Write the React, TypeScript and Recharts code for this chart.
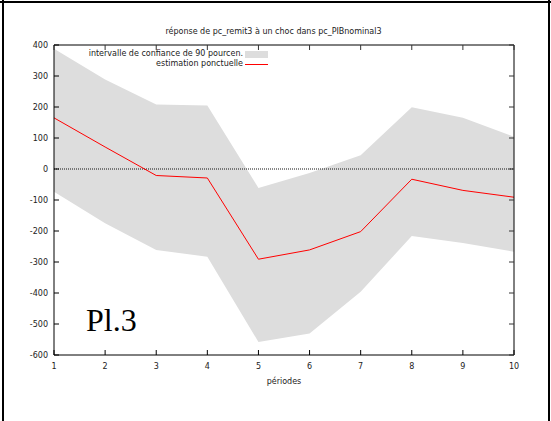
import React from 'react';
import { ComposedChart, Area, Line, XAxis, YAxis, ReferenceLine, Legend } from 'recharts';

const periods = [1, 2, 3, 4, 5, 6, 7, 8, 9, 10];
const estimate = [165, 71, -21, -29, -291, -261, -202, -33, -69, -91];
const upper = [388, 289, 208, 205, -61, -13, 44, 199, 165, 104];
const lower = [-73, -175, -261, -283, -558, -531, -396, -216, -239, -267];
const yTicks = [-600, -500, -400, -300, -200, -100, 0, 100, 200, 300, 400];
const xTicks = [1, 2, 3, 4, 5, 6, 7, 8, 9, 10];

const titleText = 'réponse de pc_remit3 à un choc dans pc_PIBnominal3';
const xLabel = 'périodes';
const bandName = 'intervalle de confiance de 90 pourcen.';
const lineName = 'estimation ponctuelle';
const panelLabel = 'Pl.3';

const data = periods.map((p, i) => ({ x: p, est: estimate[i], band: [lower[i], upper[i]] }));

const FONT = '"DejaVu Sans", Verdana, sans-serif';
const TICK_LEN = 5;
const Y_MARGIN = 6;
const X_MARGIN = 8;

const LeftTick = (props: any) => {
  const { x, y, payload } = props;
  const ax = x + Y_MARGIN;
  return (
    <g>
      <line x1={ax} y1={y} x2={ax + TICK_LEN} y2={y} stroke="#000" strokeWidth={1} />
      <text x={x} y={y} dy="0.35em" textAnchor="end" fontSize={8} fontFamily={FONT} fill="#222">
        {payload.value}
      </text>
    </g>
  );
};

const BottomTick = (props: any) => {
  const { x, y, payload } = props;
  const ay = y - X_MARGIN;
  return (
    <g>
      <line x1={x} y1={ay} x2={x} y2={ay - TICK_LEN} stroke="#000" strokeWidth={1} />
      <text x={x} y={y} dy="0.71em" textAnchor="middle" fontSize={8} fontFamily={FONT} fill="#222">
        {payload.value}
      </text>
    </g>
  );
};

const RightTick = (props: any) => {
  const { x, y } = props;
  return <line x1={x} y1={y} x2={x - TICK_LEN} y2={y} stroke="#333" strokeWidth={1} />;
};

const TopTick = (props: any) => {
  const { x, y } = props;
  return <line x1={x} y1={y} x2={x} y2={y + TICK_LEN} stroke="#333" strokeWidth={1} />;
};

const renderLegend = (props: any) => {
  const payload = [...(props.payload || [])].sort((a: any, b: any) =>
    (a.dataKey === 'band' ? 0 : 1) - (b.dataKey === 'band' ? 0 : 1)
  );
  return (
    <div style={{ position: 'relative', width: 551, height: 30, fontFamily: FONT, fontSize: 8, color: '#222' }}>
      {payload.map((entry: any, i: number) => {
        const isBand = entry.dataKey === 'band';
        return (
          <div key={i} style={{ position: 'absolute', top: i * 10.5, left: 0, width: 551, height: 10.5 }}>
            <span
              style={{
                position: 'absolute',
                right: 551 - 243,
                top: 0,
                lineHeight: '10.5px',
                whiteSpace: 'nowrap',
              }}
            >
              {entry.value}
            </span>
            {isBand ? (
              <span style={{ position: 'absolute', left: 245, top: 2, width: 23, height: 7, background: '#dddddd' }} />
            ) : (
              <span style={{ position: 'absolute', left: 245, top: 5, width: 23, height: 1, background: '#ff0000' }} />
            )}
          </div>
        );
      })}
    </div>
  );
};

export default function App() {
  return (
    <div style={{ position: 'absolute', left: 0, top: 0, width: 551, height: 421, background: '#fff', overflow: 'hidden' }}>
      <div style={{ position: 'absolute', left: 0, top: 1, width: 551, height: 2, background: '#000' }} />
      <div style={{ position: 'absolute', left: 2, top: 0, width: 2, height: 421, background: '#000' }} />
      <div style={{ position: 'absolute', left: 548, top: 0, width: 2, height: 421, background: '#000' }} />
      <div
        style={{
          position: 'absolute',
          left: 0,
          top: 27,
          width: 551,
          textAlign: 'center',
          fontFamily: FONT,
          fontSize: 8,
          color: '#222',
        }}
      >
        <span style={{ position: 'relative', left: -2 }}>{titleText}</span>
      </div>
      <div style={{ position: 'absolute', left: 0, top: 0 }}>
        <ComposedChart width={551} height={421} data={data} margin={{ top: 44, right: 36, bottom: 36, left: 4 }}>
          <XAxis
            xAxisId={0}
            dataKey="x"
            type="number"
            domain={[1, 10]}
            ticks={xTicks}
            allowDataOverflow
            height={30}
            tickSize={0}
            tickMargin={X_MARGIN}
            tickLine={false}
            tick={<BottomTick />}
            axisLine={{ stroke: '#000', strokeWidth: 1 }}
            interval={0}
            label={{ value: xLabel, position: 'bottom', offset: -7, fontSize: 8, fontFamily: FONT, fill: '#222' }}
          />
          <XAxis
            xAxisId="t"
            orientation="top"
            dataKey="x"
            type="number"
            domain={[1, 10]}
            ticks={xTicks}
            allowDataOverflow
            height={1}
            tickSize={0}
            tickMargin={0}
            tickLine={false}
            tick={<TopTick />}
            axisLine={{ stroke: '#000', strokeWidth: 1 }}
            interval={0}
          />
          <YAxis
            yAxisId={0}
            type="number"
            domain={[-600, 400]}
            ticks={yTicks}
            allowDataOverflow
            width={50}
            tickSize={0}
            tickMargin={Y_MARGIN}
            tickLine={false}
            tick={<LeftTick />}
            axisLine={{ stroke: '#000', strokeWidth: 1 }}
            interval={0}
          />
          <YAxis
            yAxisId="r"
            orientation="right"
            type="number"
            domain={[-600, 400]}
            ticks={yTicks}
            allowDataOverflow
            width={1}
            tickSize={0}
            tickMargin={0}
            tickLine={false}
            tick={<RightTick />}
            axisLine={{ stroke: '#000', strokeWidth: 1 }}
            interval={0}
          />
          <Legend
            content={renderLegend}
            layout="horizontal"
            verticalAlign="middle"
            align="center"
            wrapperStyle={{ top: 48.5, left: 0, width: 551, height: 22 }}
          />
          <Area
            dataKey="band"
            name={bandName}
            type="linear"
            stroke="none"
            fill="#dddddd"
            fillOpacity={1}
            isAnimationActive={false}
            dot={false}
            activeDot={false}
          />
          <ReferenceLine y={0} stroke="#111" strokeDasharray="1 1" strokeWidth={1} />
          <Line
            dataKey="est"
            name={lineName}
            type="linear"
            stroke="#ff0000"
            strokeWidth={1}
            dot={false}
            activeDot={false}
            isAnimationActive={false}
          />
        </ComposedChart>
      </div>
      <div
        style={{
          position: 'absolute',
          left: 86,
          top: 300,
          fontFamily: '"Liberation Serif", "Times New Roman", serif',
          fontSize: 32,
          lineHeight: '40px',
          color: '#000',
        }}
      >
        {panelLabel}
      </div>
    </div>
  );
}
